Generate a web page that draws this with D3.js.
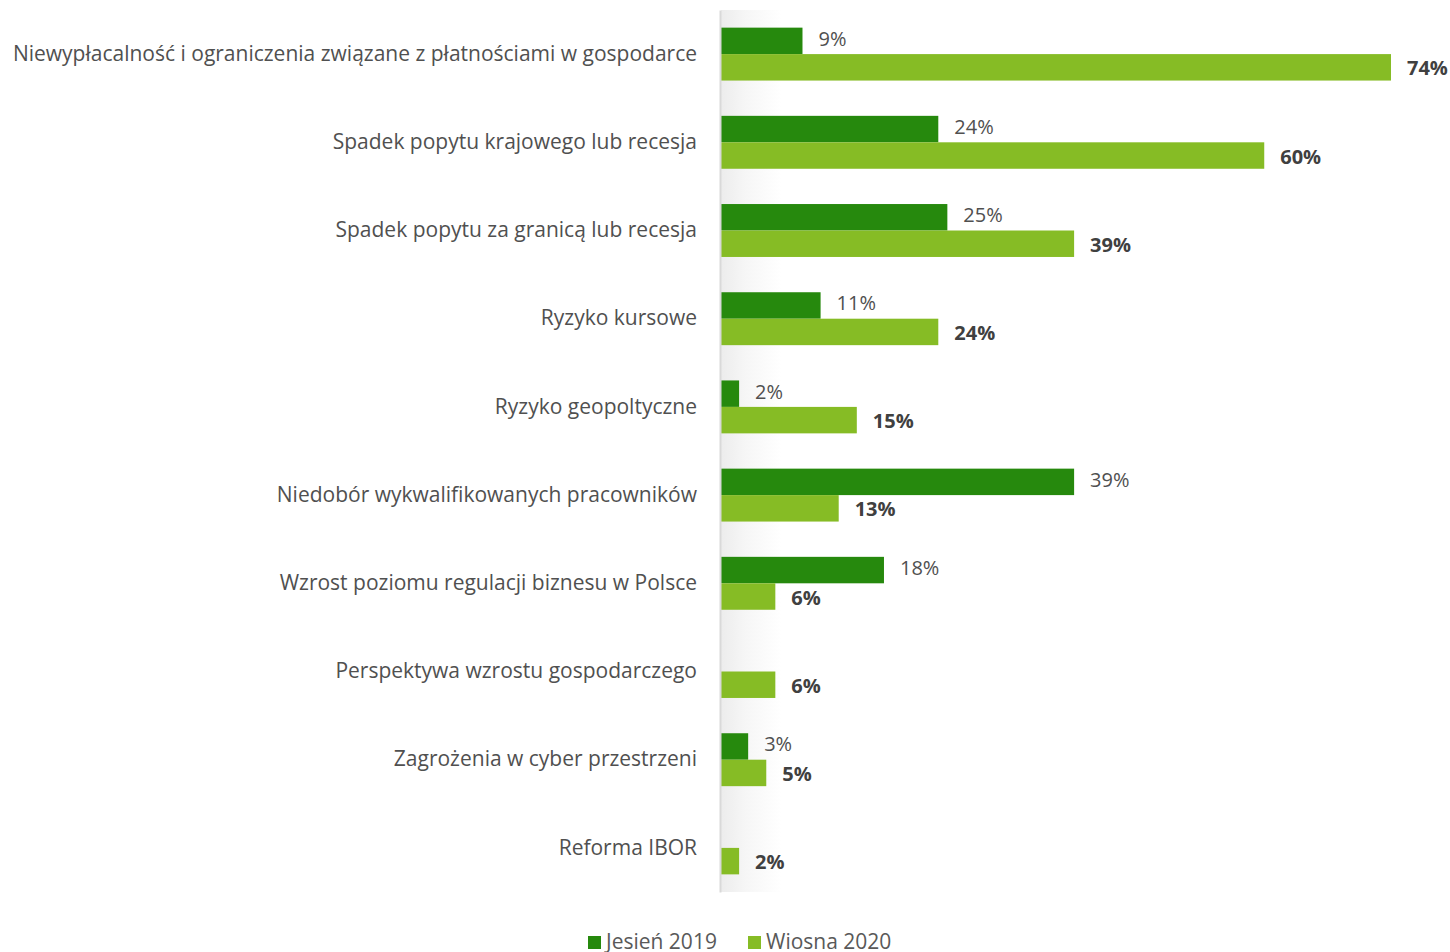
<!DOCTYPE html>
<html>
<head>
<meta charset="utf-8">
<script src="https://cdn.jsdelivr.net/npm/d3@7"></script>
<style>
  html, body { margin: 0; padding: 0; background: #fff; }
  svg { display: block; font-family: "Open Sans", "Noto Sans", sans-serif; }
</style>
</head>
<body>
<svg id="chart" width="1450" height="952"></svg>
<script>
// Zagrożenia dla działalności firm – porównanie dwóch badań
const categories = [
  "Niewypłacalność i ograniczenia związane z płatnościami w gospodarce",
  "Spadek popytu krajowego lub recesja",
  "Spadek popytu za granicą lub recesja",
  "Ryzyko kursowe",
  "Ryzyko geopoltyczne",
  "Niedobór wykwalifikowanych pracowników",
  "Wzrost poziomu regulacji biznesu w Polsce",
  "Perspektywa wzrostu gospodarczego",
  "Zagrożenia w cyber przestrzeni",
  "Reforma IBOR"
];
const seriesNames = ["Jesień 2019", "Wiosna 2020"];
const autumn2019 = [9, 24, 25, 11, 2, 39, 18, null, 3, null];
const spring2020 = [74, 60, 39, 24, 15, 13, 6, 6, 5, 2];
const seriesColors = ["#26890d", "#86bc25"];

const svg = d3.select("#chart");
const margin = { top: 10, left: 721 };
const plotBottom = 892;

const x = d3.scaleLinear().domain([0, 74]).range([margin.left, 1391]);
const y = d3.scaleBand().domain(categories).range([margin.top, plotBottom]).paddingInner(0.4).paddingOuter(0.2);
const sub = d3.scaleBand().domain([0, 1]).range([0, y.bandwidth()]);

// soft shadow along the category axis
const defs = svg.append("defs");
const grad = defs.append("linearGradient").attr("id", "axisShade").attr("x1", "0").attr("x2", "1").attr("y1", "0").attr("y2", "0");
grad.append("stop").attr("offset", "0").attr("stop-color", "#ececec");
grad.append("stop").attr("offset", "0.4").attr("stop-color", "#f6f6f6");
grad.append("stop").attr("offset", "1").attr("stop-color", "#ffffff");
svg.append("rect")
  .attr("x", margin.left).attr("y", margin.top)
  .attr("width", 60).attr("height", plotBottom - margin.top)
  .attr("fill", "url(#axisShade)");

const rows = categories.map((c, i) => ({ cat: c, vals: [autumn2019[i], spring2020[i]] }));

const g = svg.append("g");
const row = g.selectAll("g.row").data(rows).join("g")
  .attr("class", "row")
  .attr("transform", d => `translate(0,${y(d.cat)})`);

row.selectAll("rect").data(d => d.vals.map((v, k) => ({ v, k })).filter(e => e.v != null)).join("rect")
  .attr("x", x(0))
  .attr("y", e => sub(e.k))
  .attr("width", e => x(e.v) - x(0))
  .attr("height", sub.bandwidth())
  .attr("fill", e => seriesColors[e.k]);

row.selectAll("text.val").data(d => d.vals.map((v, k) => ({ v, k })).filter(e => e.v != null)).join("text")
  .attr("class", "val")
  .attr("x", e => x(e.v) + 16)
  .attr("y", e => sub(e.k) + sub.bandwidth() / 2 + (e.k === 0 ? -2 : 1))
  .attr("dy", "0.35em")
  .attr("font-size", 20)
  .attr("font-weight", e => e.k === 1 ? 700 : 400)
  .attr("fill", e => e.k === 1 ? "#404040" : "#505050")
  .text(e => e.v + "%");

// category axis
const axis = d3.axisLeft(y).tickSize(0).tickPadding(23);
const ax = svg.append("g").attr("transform", `translate(${margin.left - 1},0)`).call(axis);
ax.select(".domain").attr("stroke", "#d9d9d9").attr("stroke-width", 2);
ax.selectAll(".tick text")
  .attr("font-size", 21)
  .attr("font-family", "'Open Sans', sans-serif")
  .attr("fill", "#505050");

// legend
const legend = svg.append("g").attr("transform", "translate(588,941)");
const legendX = [0, 160];
seriesNames.forEach((name, i) => {
  const lg = legend.append("g").attr("transform", `translate(${legendX[i]},0)`);
  lg.append("rect").attr("x", 0).attr("y", -5).attr("width", 13).attr("height", 13).attr("fill", seriesColors[i]);
  lg.append("text").attr("x", 18).attr("y", 1).attr("dy", "0.35em")
    .attr("font-size", 21).attr("fill", "#595959").text(name);
});
</script>
</body>
</html>
